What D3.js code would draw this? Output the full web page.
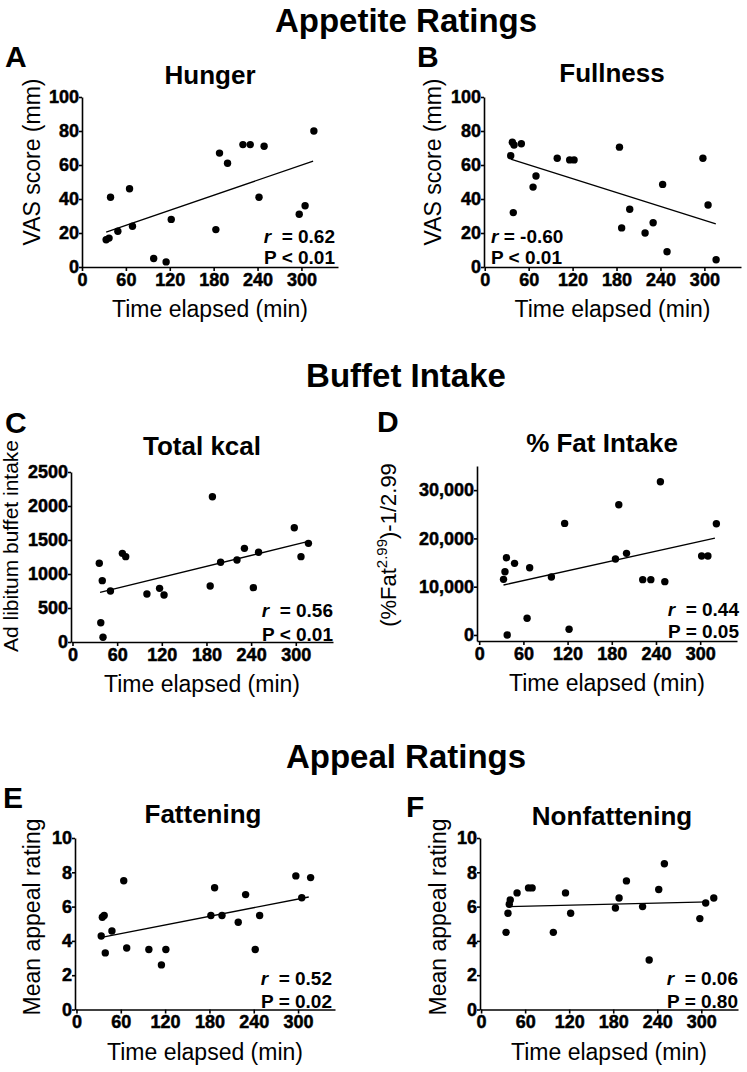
<!DOCTYPE html>
<html>
<head>
<meta charset="utf-8">
<script src="https://cdn.jsdelivr.net/npm/d3@7"></script>
<style>
body{margin:0;background:#fff}
svg{display:block;font-family:"Liberation Sans",Arial,Helvetica,sans-serif}
.axis path,.axis line{stroke:#000;stroke-width:1.6}
</style>
</head>
<body>
<svg id="chart"></svg>
<script>

//data, time elapsed (min) vs outcome//

var hungerTime  = [33,37,39,49,65,69,98,115,122,183,188,199,220,230,242,249,297,305,317];
var hungerScore = [16,17,41,21,46,24,5,3,28,22,67,61,72,72,41,71,31,36,80];
var hungerFit   = [33,20.5,316,62.3];

var fullTime  = [35.5,37.7,40,39,50,66,70,99,116,122,184,187,198,219,230,243,249,298,305,316];
var fullScore = [65.5,73.4,71.8,32,72.5,47,53.5,64,63,63,70.5,23,34,20,26,48.6,9,64,36.5,4.3];
var fullFit   = [35.5,63.5,315.6,25.3];

var kcalTime = [36,40,51,38,41,67,71.5,100,117,123,185,188,199,221,231,243,250,298,307,317];
var kcal     = [1157,902,750,284,69,1304,1255,706,789,691,824,2137,1172,1206,1377,799,1319,1681,1255,1451];
var kcalFit  = [37,730,315.5,1475];

var fatTime = [33,35,37,38,48,65,68.5,98,116,122,185,189.5,200,222,233,246,252,302,310.5,322];
var fatVal  = [11523,13110,16008,0,14835,3450,13938,12006,23115,1173,15732,26979,16905,11454,11454,31740,11040,16353,16353,23046];
var fatFit  = [33,10350,320,20079];

var fattenTime = [33.5,35,37.5,39,48,64,68,98,115,121,182,187,197,219,229,242,248,297,305,317];
var fatten     = [4.29,5.38,5.48,3.3,4.58,7.51,3.59,3.5,2.6,3.5,5.48,7.1,5.48,5.09,6.7,3.5,5.48,7.79,6.52,7.69];
var fattenFit  = [34,4.21,314.5,6.56];

var nonfatTime = [34,36.6,38.4,39.7,49,64.6,69.5,98.4,115,122,183,188,198,220,229,242,249.7,298,306,317];
var nonfat     = [4.5,5.61,6.14,6.39,6.8,7.09,7.09,4.5,6.8,5.61,5.92,6.5,7.5,6.0,2.89,7.0,8.5,5.3,6.21,6.5];
var nonfatFit  = [37,6.0,310,6.27];

//stats and tick labels//
var statR = ["0.62","-0.60","0.56","0.44","0.52","0.06"];
var statP = ["< 0.01","< 0.01","< 0.01","= 0.05","= 0.02","= 0.80"];

var timeTicks   = [0,60,120,180,240,300];
var vasTicks    = [0,20,40,60,80,100];
var kcalTicks   = [0,500,1000,1500,2000,2500];
var fatTicks    = [0,10000,20000,30000];
var appealTicks = [0,2,4,6,8,10];

var sections = ["Appetite Ratings","Buffet Intake","Appeal Ratings"];

//screen//
var screen = {width: 747, height: 1072}

var svg = d3.select("#chart")
            .attr("width",screen.width)
            .attr("height",screen.height)

svg.append("rect")
   .attr("width",screen.width)
   .attr("height",screen.height)
   .attr("fill","#fff")

var panels = [
 {letter:"A", title:"Hunger", xs:hungerTime, ys:hungerScore, fit:hungerFit, k:0,
  yDomain:[0,100], yTicks:vasTicks, fmt:d3.format("d"), yLabel:["VAS score (mm)"], yLabelSize:23,
  left:82, right:338, xMin:0, top:97, bottom:267,
  letterPos:[5,67], titlePos:[210,84], yLabelPos:[40,162],
  statAnchor:"end", statX:335, statY:[243,264]},
 {letter:"B", title:"Fullness", xs:fullTime, ys:fullScore, fit:fullFit, k:1,
  yDomain:[0,100], yTicks:vasTicks, fmt:d3.format("d"), yLabel:["VAS score (mm)"], yLabelSize:23,
  left:484, right:741, xMin:-1, top:97, bottom:267,
  letterPos:[417,67], titlePos:[612,82], yLabelPos:[441,162],
  statAnchor:"start", statX:491, statY:[243,264]},
 {letter:"C", title:"Total kcal", xs:kcalTime, ys:kcal, fit:kcalFit, k:2,
  yDomain:[0,2500], yTicks:kcalTicks, fmt:d3.format("d"), yLabel:["Ad libitum buffet intake"], yLabelSize:21,
  left:71, right:333, xMin:-2, top:472, bottom:642,
  letterPos:[5,433], titlePos:[202,455], yLabelPos:[18,546],
  statAnchor:"end", statX:333, statY:[617,641]},
 {letter:"D", title:"% Fat Intake", xs:fatTime, ys:fatVal, fit:fatFit, k:3,
  yDomain:[-1250,35000], yTicks:fatTicks, fmt:d3.format(","), yLabel:null, yLabelSize:22,
  left:477, right:737, xMin:-3, top:466, bottom:641,
  letterPos:[377,432], titlePos:[602,452], yLabelPos:[396,545],
  statAnchor:"end", statX:739, statY:[616,638]},
 {letter:"E", title:"Fattening", xs:fattenTime, ys:fatten, fit:fattenFit, k:4,
  yDomain:[0,10], yTicks:appealTicks, fmt:d3.format("d"), yLabel:["Mean appeal rating"], yLabelSize:23,
  left:75, right:335, xMin:-2, top:838, bottom:1009.5,
  letterPos:[3,808], titlePos:[203,823], yLabelPos:[40,917],
  statAnchor:"end", statX:332, statY:[985,1008]},
 {letter:"F", title:"Nonfattening", xs:nonfatTime, ys:nonfat, fit:nonfatFit, k:5,
  yDomain:[0,10], yTicks:appealTicks, fmt:d3.format("d"), yLabel:["Mean appeal rating"], yLabelSize:23,
  left:480, right:738, xMin:-1.5, top:838, bottom:1009.5,
  letterPos:[406,817], titlePos:[612,825], yLabelPos:[446,917],
  statAnchor:"end", statX:738, statY:[985,1008]}
]

//section headings//
svg.selectAll(".section")
   .data(sections)
   .enter()
   .append("text")
   .attr("class","section")
   .attr("x",406)
   .attr("y",function(d,i){ return [32,387,768][i]; })
   .attr("text-anchor","middle")
   .attr("font-size",33)
   .attr("font-weight","bold")
   .text(function(d){ return d; })

//tick label styling, d3 puts its own font on the axis group//
var styleTicks = function(sel)
{
 sel.attr("font-family",null).attr("font-size",null);
 sel.selectAll("text")
    .attr("font-size",18)
    .attr("font-weight","bold")
    .attr("fill","#000")
    .attr("stroke","#000")
    .attr("stroke-width",0.5);
}

var drawPanel = function(p)
{
 var g = svg.append("g").attr("class","panel");

 var xScale = d3.scaleLinear()
                .domain([p.xMin,350])
                .range([p.left,p.right])

 var yScale = d3.scaleLinear()
                .domain(p.yDomain)
                .range([p.bottom,p.top])

 g.append("g")
  .attr("class","axis")
  .attr("transform","translate(0,"+p.bottom+")")
  .call(d3.axisBottom(xScale).tickValues(timeTicks).tickSize(4).tickPadding(2).tickSizeOuter(0))
  .call(styleTicks)

 g.append("g")
  .attr("class","axis")
  .attr("transform","translate("+p.left+",0)")
  .call(d3.axisLeft(yScale).tickValues(p.yTicks).tickFormat(p.fmt).tickSize(3).tickPadding(0).tickSizeOuter(0))
  .call(styleTicks)

 //regression line//
 g.append("line")
  .attr("x1",xScale(p.fit[0]))
  .attr("y1",yScale(p.fit[1]))
  .attr("x2",xScale(p.fit[2]))
  .attr("y2",yScale(p.fit[3]))
  .attr("stroke","#000")
  .attr("stroke-width",1.3)

 //dots//
 g.selectAll("circle")
  .data(p.xs)
  .enter()
  .append("circle")
  .attr("cx",function(d){ return xScale(d); })
  .attr("cy",function(d,i){ return yScale(p.ys[i]); })
  .attr("r",3.7)
  .attr("fill","#000")

 //letter and title//
 g.append("text")
  .attr("x",p.letterPos[0])
  .attr("y",p.letterPos[1])
  .attr("font-size",30)
  .attr("font-weight","bold")
  .text(p.letter)

 g.append("text")
  .attr("x",p.titlePos[0])
  .attr("y",p.titlePos[1])
  .attr("text-anchor","middle")
  .attr("font-size",26)
  .attr("font-weight","bold")
  .text(p.title)

 //x axis title//
 g.append("text")
  .attr("x",(p.left+p.right)/2)
  .attr("y",p.bottom+50)
  .attr("text-anchor","middle")
  .attr("font-size",23)
  .text("Time elapsed (min)")

 //y axis title//
 var yl = g.append("text")
           .attr("transform","translate("+p.yLabelPos[0]+","+p.yLabelPos[1]+") rotate(-90)")
           .attr("text-anchor","middle")
           .attr("font-size",p.yLabelSize)
           .attr("fill","#000")
 if(p.yLabel)
   {
   yl.text(p.yLabel[0]);
   }
 else
   {
   yl.append("tspan").text("(%Fat");
   yl.append("tspan").attr("dy",-9).attr("font-size",15).text("2.99");
   yl.append("tspan").attr("dy",9).text(")-1/2.99");
   }

 //r and P//
 var rt = g.append("text")
           .attr("x",p.statX)
           .attr("y",p.statY[0])
           .attr("text-anchor",p.statAnchor)
           .attr("font-size",19)
           .attr("font-weight","bold")
           .style("white-space","pre")
 rt.append("tspan").attr("font-style","italic").text("r");
 rt.append("tspan").text((p.statAnchor=="end" ? "  = " : " = ")+statR[p.k]);

 g.append("text")
  .attr("x",p.statX)
  .attr("y",p.statY[1])
  .attr("text-anchor",p.statAnchor)
  .attr("font-size",19)
  .attr("font-weight","bold")
  .text("P "+statP[p.k])
}

panels.forEach(function(p){ drawPanel(p); })

</script>
</body>
</html>
